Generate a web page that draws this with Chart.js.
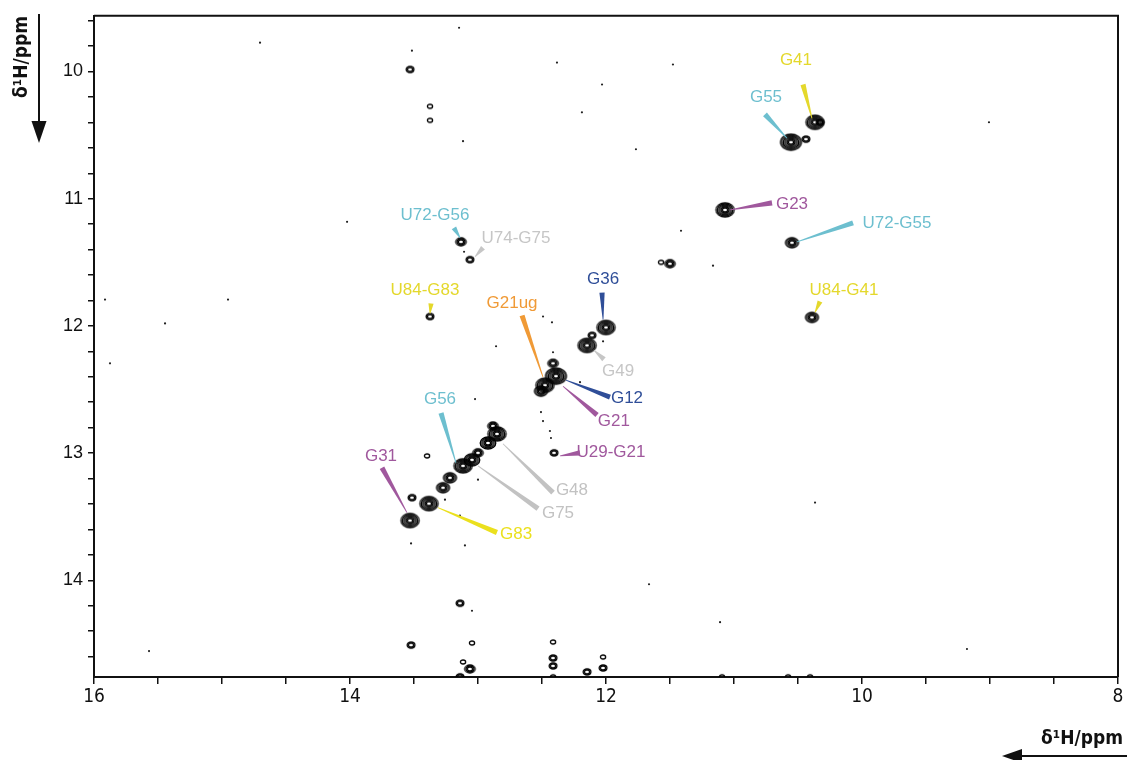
<!DOCTYPE html>
<html>
<head>
<meta charset="utf-8">
<script src="https://cdn.jsdelivr.net/npm/chart.js@4/dist/chart.umd.min.js"></script>
<style>
  html, body { margin: 0; padding: 0; background: #fff; }
  #wrap { width: 1127px; height: 760px; }
</style>
</head>
<body>
<div id="wrap"><canvas id="spec" width="1127" height="760"></canvas></div>
<script>
// Imino region of the 1H-1H NOESY spectrum (ppm on both axes).

// Axis ranges and labelled ticks
const xRange = [8, 16];
const yRange = [9.562, 14.76];
const xMajorTicks = [16, 14, 12, 10, 8];
const yMajorTicks = [10, 11, 12, 13, 14];

// Cross / diagonal peaks: F2 shift, F1 shift, number of contour levels
const peakX = [
  10.367, 10.555, 10.438, 10.328, 11.070, 10.547, 10.391, 11.500, 11.570,
  12.000, 12.148, 12.109, 12.391, 12.477, 12.414, 12.508, 12.406,
  13.531, 13.516, 13.383, 13.273, 13.219, 13.117, 13.047, 13.000, 12.922, 12.852, 12.883,
  13.133, 13.063, 13.375, 13.531, 13.375, 13.375, 13.398,
  13.141, 13.523, 13.047, 13.117, 13.063, 13.141, 12.414, 12.414, 12.414, 12.414,
  12.148, 12.023, 12.023, 11.094, 10.578, 10.406
];
const peakY = [
  10.399, 10.556, 10.532, 10.399, 11.088, 11.346, 11.933, 11.511, 11.500,
  12.012, 12.153, 12.074, 12.395, 12.466, 12.294, 12.513, 12.998,
  13.530, 13.350, 13.397, 13.272, 13.194, 13.100, 13.053, 12.998, 12.920, 12.849, 12.787,
  11.339, 11.479, 11.926, 9.984, 10.384, 10.274, 13.022,
  14.180, 14.509, 14.493, 14.642, 14.697, 14.759, 14.485, 14.611, 14.673, 14.759,
  14.720, 14.603, 14.689, 14.759, 14.759, 14.759
];
const peakLevels = [
  6, 7, 2, 2, 6, 4, 4, 3, 1,
  6, 6, 2, 7, 6, 3, 4, 2,
  6, 2, 6, 4, 4, 6, 5, 3, 5, 6, 3,
  3, 2, 2, 2, 1, 1, 1,
  2, 2, 1, 1, 3, 2, 1, 2, 2, 1,
  2, 1, 2, 1, 1, 1
];

// Single-level noise specks
const speckX = [
  14.703, 13.148, 13.516, 12.383, 12.031, 11.477, 12.188, 11.766, 9.008, 13.117,
  14.023, 15.914, 15.875, 15.445, 14.953, 12.859, 12.492, 11.414, 11.164, 13.023,
  12.508, 12.492, 12.430, 10.367, 11.664, 11.109, 9.180, 15.570, 13.523, 13.102,
  12.422, 12.414, 12.203, 13.109, 12.023, 13.000, 13.258, 13.141, 12.438, 13.047
];
const speckY = [
  9.773, 9.656, 9.836, 9.930, 10.102, 9.945, 10.321, 10.611, 10.399, 10.548,
  11.182, 11.793, 12.294, 11.980, 11.793, 12.160, 11.926, 11.252, 11.526, 12.575,
  12.677, 12.748, 12.881, 13.389, 14.031, 14.329, 14.540, 14.556, 13.710, 13.726,
  11.972, 12.207, 12.442, 11.417, 12.121, 13.209, 13.366, 13.491, 12.826, 14.239
];

// Assignment labels: name, colour, text position, leader start (label side), leader end (peak)
const labelNames = [
  'G41', 'G55', 'G23', 'U72-G55', 'U84-G41', 'U72-G56', 'U74-G75', 'U84-G83',
  'G21ug', 'G36', 'G49', 'G12', 'G21', 'U29-G21', 'G56', 'G31', 'G83', 'G75', 'G48'
];
const labelColors = [
  '#e4d82c', '#6dbfcf', '#a0589d', '#6dbfcf', '#e4d82c', '#6dbfcf', '#c6c6c6', '#e4d82c',
  '#f09a36', '#2f4e98', '#c6c6c6', '#2f4e98', '#a0589d', '#a0589d', '#6dbfcf', '#a0589d',
  '#ebe01e', '#c2c2c2', '#c2c2c2'
];
const labelAt = [
  [10.516, 9.914], [10.750, 10.204], [10.547, 11.041], [9.727, 11.190], [10.141, 11.722],
  [13.336, 11.127], [12.703, 11.315], [13.414, 11.722], [12.734, 11.824], [12.023, 11.636],
  [11.906, 12.356], [11.836, 12.568], [11.938, 12.748], [11.961, 12.990], [13.297, 12.575],
  [13.758, 13.022], [12.703, 13.639], [12.375, 13.476], [12.266, 13.292]
];
const leaderFrom = [
  [10.461, 10.102], [10.758, 10.337], [10.703, 11.033], [10.070, 11.190], [10.328, 11.808],
  [13.188, 11.229], [12.961, 11.386], [13.367, 11.824], [12.656, 11.918], [12.031, 11.738],
  [12.016, 12.262], [11.969, 12.560], [12.070, 12.700], [12.203, 12.998], [13.289, 12.685],
  [13.750, 13.115], [12.852, 13.624], [12.531, 13.437], [12.414, 13.310]
];
const leaderTo = [
  [10.391, 10.368], [10.586, 10.524], [11.031, 11.088], [10.508, 11.339], [10.367, 11.894],
  [13.140, 11.307], [13.023, 11.456], [13.375, 11.902], [12.492, 12.403], [12.023, 11.949],
  [12.094, 12.191], [12.313, 12.427], [12.336, 12.474], [12.359, 13.022], [13.172, 13.076],
  [13.555, 13.468], [13.313, 13.429], [13.000, 13.100], [12.805, 12.927]
];

const TICK_FONT = '"DejaVu Sans Condensed", "Liberation Sans Narrow", "Liberation Sans", Arial, sans-serif';
const LABEL_FONT = '"Liberation Sans", Arial, sans-serif';

// Elliptical contour ring used as a point style for one contour level
function contourRing(level) {
  const ry = 2 + 1.0 * level;
  const rx = ry * 1.3;
  const c = document.createElement('canvas');
  c.width = Math.ceil(rx * 2 + 4);
  c.height = Math.ceil(ry * 2 + 4);
  const g = c.getContext('2d');
  g.strokeStyle = '#000';
  g.lineWidth = 1.3;
  g.beginPath();
  g.ellipse(c.width / 2, c.height / 2, rx, ry, 0, 0, Math.PI * 2);
  g.stroke();
  return c;
}

// One ring dataset per contour level
const maxLevel = Math.max(...peakLevels);
const datasets = [];
for (let k = 0; k < maxLevel; k++) {
  const pts = [];
  peakX.forEach((x, i) => { if (peakLevels[i] > k) pts.push({ x: x, y: peakY[i] }); });
  datasets.push({
    label: 'level ' + (k + 1),
    data: pts,
    pointStyle: contourRing(k),
    pointRadius: 2 + k,
    borderWidth: 0
  });
}
datasets.push({
  label: 'specks',
  data: speckX.map((x, i) => ({ x: x, y: speckY[i] })),
  pointStyle: 'circle',
  pointRadius: 1.1,
  borderWidth: 0,
  backgroundColor: '#222'
});

const isNear = (v, list) => list.some(t => Math.abs(v - t) < 1e-6);

// Frame, assignment labels with wedge leaders, and arrowed axis titles
const decorations = {
  id: 'decorations',
  afterDatasetsDraw(chart) {
    const { ctx, chartArea: a, scales: { x, y } } = chart;
    ctx.save();
    // top and right edges of the frame
    ctx.strokeStyle = '#111';
    ctx.lineWidth = 2;
    ctx.beginPath();
    ctx.moveTo(a.left, a.top);
    ctx.lineTo(a.right, a.top);
    ctx.lineTo(a.right, a.bottom);
    ctx.stroke();

    labelNames.forEach((name, i) => {
      const bx = x.getPixelForValue(leaderFrom[i][0]);
      const by = y.getPixelForValue(leaderFrom[i][1]);
      const tx = x.getPixelForValue(leaderTo[i][0]);
      const ty = y.getPixelForValue(leaderTo[i][1]);
      const len = Math.hypot(tx - bx, ty - by) || 1;
      const nx = -(ty - by) / len, ny = (tx - bx) / len;
      const wb = 2.6, wt = 0.4;
      ctx.fillStyle = labelColors[i];
      ctx.beginPath();
      ctx.moveTo(bx + nx * wb, by + ny * wb);
      ctx.lineTo(tx + nx * wt, ty + ny * wt);
      ctx.lineTo(tx - nx * wt, ty - ny * wt);
      ctx.lineTo(bx - nx * wb, by - ny * wb);
      ctx.closePath();
      ctx.fill();

      ctx.font = '17px ' + LABEL_FONT;
      ctx.textAlign = 'center';
      ctx.textBaseline = 'middle';
      ctx.fillText(name, x.getPixelForValue(labelAt[i][0]), y.getPixelForValue(labelAt[i][1]));
    });
    ctx.restore();
  },
  afterDraw(chart) {
    const { ctx } = chart;
    ctx.save();
    ctx.fillStyle = '#111';
    ctx.strokeStyle = '#111';
    ctx.font = 'bold 19px ' + TICK_FONT;

    // F1 title, rotated, with downward arrow
    ctx.save();
    ctx.translate(22, 57);
    ctx.rotate(-Math.PI / 2);
    ctx.textAlign = 'center';
    ctx.textBaseline = 'middle';
    ctx.fillText('δ¹H/ppm', 0, 0);
    ctx.restore();
    ctx.lineWidth = 2;
    ctx.beginPath();
    ctx.moveTo(39, 14);
    ctx.lineTo(39, 126);
    ctx.stroke();
    ctx.beginPath();
    ctx.moveTo(31.5, 121);
    ctx.lineTo(46.5, 121);
    ctx.lineTo(39, 143);
    ctx.closePath();
    ctx.fill();

    // F2 title with leftward arrow
    ctx.textAlign = 'right';
    ctx.textBaseline = 'middle';
    ctx.fillText('δ¹H/ppm', 1123, 739);
    ctx.beginPath();
    ctx.moveTo(1018, 756);
    ctx.lineTo(1127, 756);
    ctx.stroke();
    ctx.beginPath();
    ctx.moveTo(1002, 756);
    ctx.lineTo(1022, 749);
    ctx.lineTo(1022, 763);
    ctx.closePath();
    ctx.fill();
    ctx.restore();
  }
};

new Chart(document.getElementById('spec'), {
  type: 'scatter',
  data: { datasets: datasets },
  options: {
    responsive: false,
    animation: false,
    events: [],
    layout: { padding: { top: 13, right: 9, left: 0, bottom: 0 } },
    plugins: { legend: { display: false }, tooltip: { enabled: false } },
    scales: {
      x: {
        type: 'linear',
        reverse: true,
        min: xRange[0],
        max: xRange[1],
        afterFit(s) { s.height = 83; },
        afterBuildTicks(s) {
          const t = [];
          for (let v = xRange[0]; v <= xRange[1] + 1e-9; v += 0.5) t.push({ value: v });
          s.ticks = t;
        },
        border: { display: true, color: '#111', width: 2 },
        grid: { drawOnChartArea: false, drawTicks: true, tickLength: 7, color: '#111', lineWidth: 1.5 },
        ticks: {
          autoSkip: false,
          maxRotation: 0,
          padding: 2,
          color: '#111',
          font: { family: TICK_FONT, size: 19 },
          callback: v => (isNear(v, xMajorTicks) ? String(Math.round(v)) : '')
        }
      },
      y: {
        type: 'linear',
        reverse: true,
        min: yRange[0],
        max: yRange[1],
        afterFit(s) { s.width = 94; },
        afterBuildTicks(s) {
          const t = [];
          for (let i = 0; i <= 25; i++) t.push({ value: Math.round((9.6 + 0.2 * i) * 10) / 10 });
          s.ticks = t;
        },
        border: { display: true, color: '#111', width: 2 },
        grid: { drawOnChartArea: false, drawTicks: true, tickLength: 6, color: '#111', lineWidth: 1.5 },
        ticks: {
          autoSkip: false,
          padding: 5,
          color: '#111',
          font: { family: LABEL_FONT, size: 18 },
          callback: v => (isNear(v, yMajorTicks) ? String(Math.round(v)) : '')
        }
      }
    }
  },
  plugins: [decorations]
});
</script>
</body>
</html>
